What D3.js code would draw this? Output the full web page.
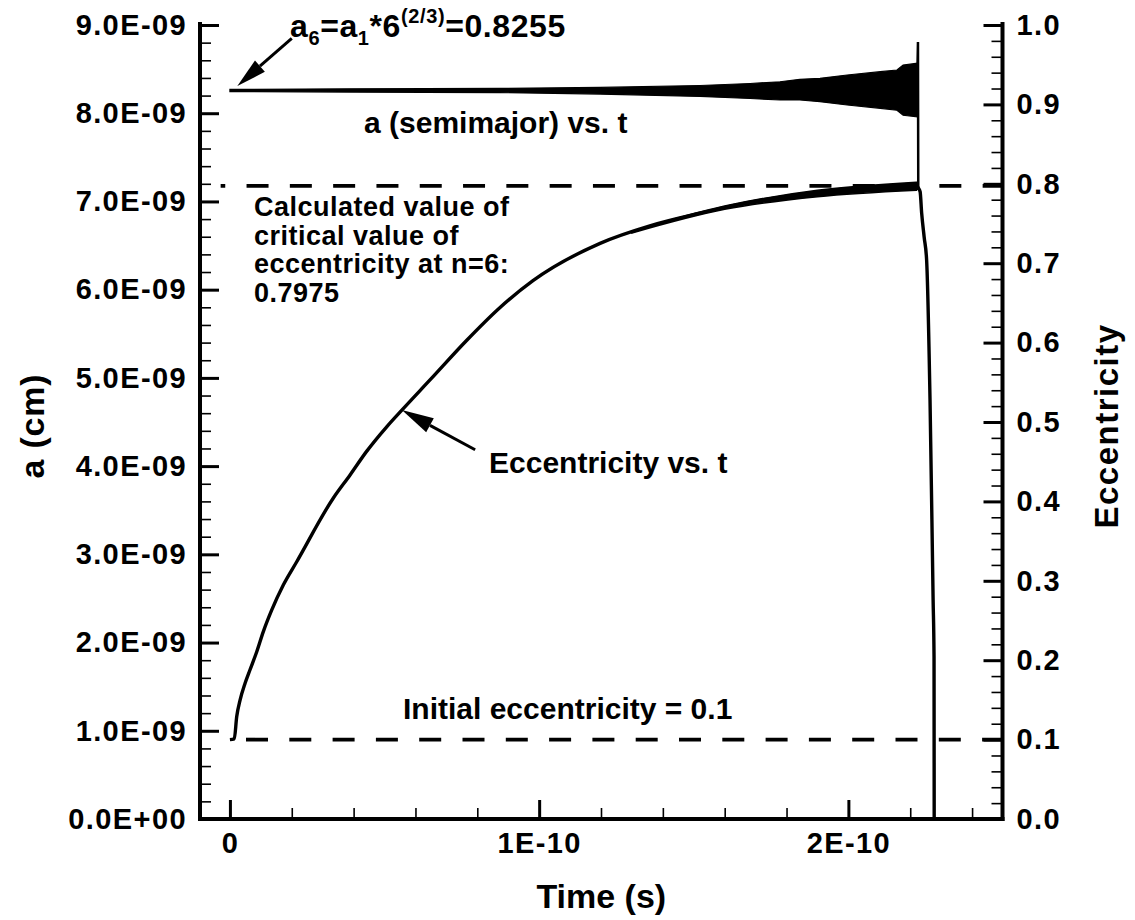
<!DOCTYPE html>
<html>
<head>
<meta charset="utf-8">
<script src="https://cdn.jsdelivr.net/npm/d3@7"></script>
<style>
  body { margin: 0; background: #fff; }
  text { font-family: "Liberation Sans", Arial, Helvetica, sans-serif; font-weight: bold; fill: #000; }
</style>
</head>
<body>
<svg id="chart" width="1135" height="920"></svg>
<script>
// ---- Eccentricity vs. time (time in units of 1e-11 s) ----
const eccTime = [0, 0.14, 0.22, 0.33, 0.49, 0.65, 0.87, 1.08, 1.35, 1.73, 2.16, 3.34, 3.88, 4.42,
  5.07, 5.56, 6.47, 7.66, 8.7, 9.8, 11.97, 13.58, 15.2, 16.82, 18.43, 20.05, 21.67, 22.22, 22.26,
  22.32, 22.37, 22.45, 22.53, 22.64, 22.74, 22.77, 22.775];
const eccValue = [0.1, 0.101, 0.129, 0.150, 0.171, 0.188, 0.211, 0.236, 0.263, 0.295, 0.324, 0.404,
  0.433, 0.463, 0.494, 0.515, 0.553, 0.603, 0.643, 0.678, 0.725, 0.747, 0.763, 0.777, 0.786, 0.791,
  0.796, 0.797, 0.795, 0.790, 0.763, 0.733, 0.704, 0.528, 0.276, 0.204, 0.0];
// jitter envelope of eccentricity late in the run (half-width, same units)
const eccJitTime = [13.0, 16.0, 19.0, 22.2];
const eccJitHalf = [0.001, 0.002, 0.004, 0.005];

// ---- Semimajor axis: oscillation envelope (time 1e-11 s, a in 1e-9 cm) ----
const aTime  = [0, 3.88, 8.73, 11.97, 15.2, 16.82, 17.79, 18.43, 19.08, 19.96, 21.03, 21.57, 21.77, 22.22];
const aUpper = [8.270, 8.276, 8.281, 8.292, 8.314, 8.337, 8.357, 8.384, 8.396, 8.433, 8.471, 8.490, 8.547, 8.566];
const aLower = [8.245, 8.240, 8.234, 8.217, 8.190, 8.167, 8.150, 8.150, 8.131, 8.093, 8.056, 8.034, 7.977, 7.960];
// final excursion of a before collapse
const aTailTime  = [22.22, 22.25, 22.26];
const aTailValue = [8.26, 8.807, 7.13];

// ---- Reference levels ----
const critEcc = 0.7975, critStart = -0.3;   // time in 1e-11 s
const initEcc = 0.1,    initStart = 0.52;

// ---- Axis ticks ----
const aTicks    = [0, 1e-9, 2e-9, 3e-9, 4e-9, 5e-9, 6e-9, 7e-9, 8e-9, 9e-9];
const eccTicks  = [0, 0.1, 0.2, 0.3, 0.4, 0.5, 0.6, 0.7, 0.8, 0.9, 1.0];
const timeTicks = [0, 1e-10, 2e-10];
const timeTickLabels = ["0", "1E-10", "2E-10"];

const svg = d3.select("#chart");
const L = 200, R = 1002.5, T = 25, B = 819;

const x  = d3.scaleLinear().domain([-1e-11, 2.5e-10]).range([L - 1, R + 0.5]);
const yA = d3.scaleLinear().domain([0, 9e-9]).range([B, T]);
const yE = d3.scaleLinear().domain([0, 1]).range([B, T]);

const fmtA = v => {
  const [m, e] = v.toExponential(1).split("e");
  const n = +e;
  return m + "E" + (n < 0 ? "-" : "+") + String(Math.abs(n)).padStart(2, "0");
};

// minor tick positions
const aMinor = d3.range(0, 46).map(i => i * 0.2e-9).filter((v, i) => i % 5 !== 0 && v <= 9e-9);
const eMinor = d3.range(0, 51).map(i => i * 0.02).filter((v, i) => i % 5 !== 0 && v <= 1);
const tMinor = d3.range(0, 13).map(i => i * 2e-11).filter((v, i) => i % 5 !== 0);

function styleAxis(g, major) {
  g.select(".domain").remove();
  g.selectAll(".tick line").attr("stroke", "#000").attr("stroke-width", major ? 3 : 1.6);
  g.selectAll(".tick text").style("font-size", "29px").style("letter-spacing", "1.4px");
}

// left axis
svg.append("g").attr("transform", `translate(${L},0)`)
  .call(d3.axisLeft(yA).tickValues(aMinor).tickSize(-11).tickFormat(""))
  .call(g => styleAxis(g, false));
svg.append("g").attr("transform", `translate(${L},0)`)
  .call(d3.axisLeft(yA).tickValues(aTicks).tickSize(-19).tickPadding(13).tickFormat(fmtA))
  .call(g => styleAxis(g, true));

// right axis
svg.append("g").attr("transform", `translate(${R},0)`)
  .call(d3.axisRight(yE).tickValues(eMinor).tickSize(-11).tickFormat(""))
  .call(g => styleAxis(g, false));
svg.append("g").attr("transform", `translate(${R},0)`)
  .call(d3.axisRight(yE).tickValues(eccTicks).tickSize(-19).tickPadding(14).tickFormat(d3.format(".1f")))
  .call(g => styleAxis(g, true));

// bottom axis
svg.append("g").attr("transform", `translate(0,${B})`)
  .call(d3.axisBottom(x).tickValues(tMinor).tickSize(-11).tickFormat(""))
  .call(g => styleAxis(g, false));
svg.append("g").attr("transform", `translate(0,${B})`)
  .call(d3.axisBottom(x).tickValues(timeTicks).tickSize(-19).tickPadding(13)
    .tickFormat((d, i) => timeTickLabels[i]))
  .call(g => styleAxis(g, true));

// axis frame lines
const frame = svg.append("g").attr("stroke", "#000").attr("stroke-width", 4).attr("stroke-linecap", "square");
frame.append("line").attr("x1", L).attr("x2", L).attr("y1", T - 1).attr("y2", B);
frame.append("line").attr("x1", R).attr("x2", R).attr("y1", T - 1).attr("y2", B);
frame.append("line").attr("x1", L).attr("x2", R).attr("y1", B).attr("y2", B);

// axis titles
svg.append("text").attr("x", (L + R) / 2).attr("y", 908).attr("text-anchor", "middle")
  .style("font-size", "34px").text("Time (s)");
svg.append("text").attr("transform", `translate(44,${(T + B) / 2 + 4}) rotate(-90)`)
  .attr("text-anchor", "middle").style("font-size", "34px").style("letter-spacing", "0.8px").text("a (cm)");
svg.append("text").attr("transform", `translate(1118,${(T + B) / 2 + 4}) rotate(-90)`)
  .attr("text-anchor", "middle").style("font-size", "33px").style("letter-spacing", "1.5px").text("Eccentricity");

// reference dashed lines
const dash = svg.append("g").attr("stroke", "#000").attr("stroke-width", 3.8)
  .attr("fill", "none").attr("stroke-dasharray", "22,21.3");
dash.append("line")
  .attr("x1", x(critStart * 1e-11)).attr("x2", R)
  .attr("y1", yE(critEcc)).attr("y2", yE(critEcc))
  .attr("stroke-dashoffset", 17.4);
dash.append("line")
  .attr("x1", x(initStart * 1e-11)).attr("x2", R)
  .attr("y1", yE(initEcc)).attr("y2", yE(initEcc));

// semimajor axis band
const aRows = aTime.map((t, i) => ({ t: t * 1e-11, hi: aUpper[i] * 1e-9, lo: aLower[i] * 1e-9 }));
svg.append("path").datum(aRows)
  .attr("d", d3.area().x(d => x(d.t)).y0(d => yA(d.lo)).y1(d => yA(d.hi)))
  .attr("fill", "#000").attr("stroke", "#000").attr("stroke-width", 1.2);
svg.append("path").datum(aTailTime.map((t, i) => ({ t: t * 1e-11, v: aTailValue[i] * 1e-9 })))
  .attr("d", d3.line().x(d => x(d.t)).y(d => yA(d.v)))
  .attr("fill", "none").attr("stroke", "#000").attr("stroke-width", 2.5);

// eccentricity curve
const eRows = eccTime.map((t, i) => ({ t: t * 1e-11, v: eccValue[i] }));
const eLine = d3.line().x(d => x(d.t)).y(d => yE(d.v)).curve(d3.curveMonotoneX);
svg.append("path").datum(eRows)
  .attr("d", eLine)
  .attr("fill", "none").attr("stroke", "#000").attr("stroke-width", 3.4)
  .attr("stroke-linejoin", "round");
// thickened late part of the eccentricity trace
const eAt = t => {
  const i = d3.bisectLeft(eccTime, t);
  const t0 = eccTime[i - 1], t1 = eccTime[i];
  return eccValue[i - 1] + (eccValue[i] - eccValue[i - 1]) * (t - t0) / (t1 - t0);
};
const jitRows = eccJitTime.map((t, i) => ({ t: t * 1e-11, c: eAt(t), h: eccJitHalf[i] }));
svg.append("path").datum(jitRows)
  .attr("d", d3.area().x(d => x(d.t)).y0(d => yE(d.c - d.h)).y1(d => yE(d.c + d.h)).curve(d3.curveMonotoneX))
  .attr("fill", "#000").attr("stroke", "#000").attr("stroke-width", 1.5);

// arrows
function arrow(x0, y0, x1, y1, headLen, halfW) {
  const dx = x1 - x0, dy = y1 - y0, len = Math.hypot(dx, dy);
  const ux = dx / len, uy = dy / len;
  const bx = x1 - ux * headLen, by = y1 - uy * headLen;
  svg.append("line").attr("x1", x0).attr("y1", y0).attr("x2", bx).attr("y2", by)
    .attr("stroke", "#000").attr("stroke-width", 3);
  svg.append("path")
    .attr("d", `M${x1},${y1}L${bx - uy * halfW},${by + ux * halfW}L${bx + uy * halfW},${by - ux * halfW}Z`)
    .attr("fill", "#000");
}
arrow(x(2.0e-11), yA(8.849e-9), x(0.24e-11), yA(8.309e-9), 30, 7.5);
arrow(x(7.93e-11), yE(0.465), x(5.56e-11), yE(0.515), 32, 8);

// annotations
const a6 = svg.append("text").attr("x", 290).attr("y", 37).style("font-size", "32px").style("letter-spacing", "0.6px");
a6.append("tspan").text("a");
a6.append("tspan").attr("dy", 8).style("font-size", "20px").text("6");
a6.append("tspan").attr("dy", -8).text("=a");
a6.append("tspan").attr("dy", 8).style("font-size", "20px").text("1");
a6.append("tspan").attr("dy", -8).text("*6");
a6.append("tspan").attr("dy", -14).style("font-size", "20px").text("(2/3)");
a6.append("tspan").attr("dy", 14).text("=0.8255");

svg.append("text").attr("x", 364).attr("y", 133).style("font-size", "30px").text("a (semimajor) vs. t");

const calc = ["Calculated value of", "critical value of", "eccentricity at n=6:", "0.7975"];
svg.append("g").selectAll("text").data(calc).join("text")
  .attr("x", 254).attr("y", (d, i) => 216 + i * 28.6)
  .style("font-size", "27px").style("letter-spacing", "0.5px").text(d => d);

svg.append("text").attr("x", 489).attr("y", 473).style("font-size", "30px").text("Eccentricity vs. t");
svg.append("text").attr("x", 403).attr("y", 719).style("font-size", "30px").text("Initial eccentricity = 0.1");
</script>
</body>
</html>
